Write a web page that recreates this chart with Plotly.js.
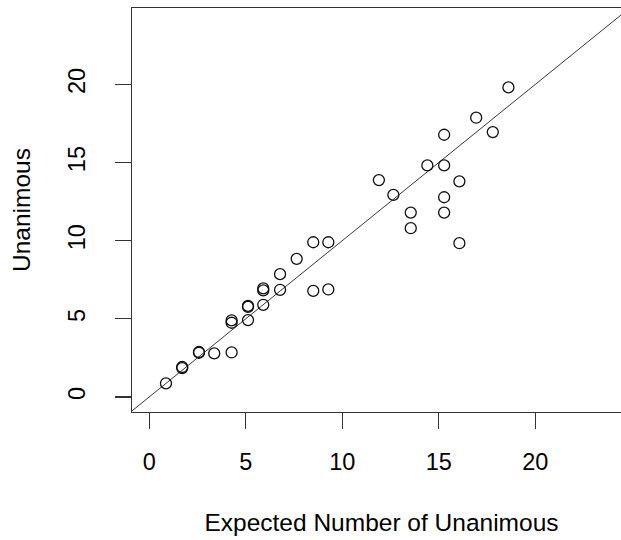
<!DOCTYPE html>
<html>
<head>
<meta charset="utf-8">
<script src="https://cdn.plot.ly/plotly-3.0.1.min.js"></script>
<style>
html, body { margin: 0; padding: 0; overflow: hidden; background: #fff; width: 621px; height: 540px; }
#chart { width: 631px; height: 540px; }
</style>
</head>
<body>
<div id="chart"></div>
<script>
// Expected number of unanimous (x) vs observed unanimous (y)
const expected = [0.87, 1.71, 1.71, 2.58, 2.58, 3.37, 4.27, 4.27, 4.27, 5.12, 5.12, 5.12,
  5.91, 5.91, 5.91, 6.78, 6.78, 7.64, 8.50, 9.28, 8.50, 9.28, 11.90, 12.65, 13.55, 13.55,
  14.41, 15.28, 15.28, 15.28, 15.28, 16.07, 16.07, 16.94, 17.80, 18.61];
const unanimous = [0.87, 1.85, 1.92, 2.83, 2.88, 2.79, 2.85, 4.75, 4.90, 4.92, 5.77, 5.83,
  5.90, 6.82, 6.95, 6.86, 7.86, 8.84, 9.90, 9.90, 6.79, 6.88, 13.88, 12.93, 11.80, 10.80,
  14.82, 14.82, 16.78, 12.78, 11.80, 13.80, 9.84, 17.87, 16.95, 19.81];
const refLine = [-2, 30];           // y = x reference line
const tickVals = [0, 5, 10, 15, 20];
const tickText = ["0", "5", "10", "15", "20"];

const tickFont = { family: "Liberation Sans, Arial, sans-serif", size: 23.5, color: "#000" };
const titleFont = { family: "Liberation Sans, Arial, sans-serif", size: 24.5, color: "#000" };

const traces = [
  {
    x: refLine, y: refLine, mode: "lines", type: "scatter",
    line: { color: "#222", width: 0.9 }, hoverinfo: "skip", showlegend: false
  },
  {
    x: expected, y: unanimous, mode: "markers", type: "scatter",
    marker: { symbol: "circle-open", size: 11, color: "#111", line: { width: 1.3, color: "#111" } },
    showlegend: false, cliponaxis: false
  }
];

const axisCommon = {
  tickmode: "array", tickvals: tickVals, ticktext: tickText,
  ticks: "outside", ticklen: 16, tickwidth: 1.2, tickcolor: "#333",
  showline: true, linecolor: "#333", linewidth: 1.3,
  showgrid: false, zeroline: false, tickfont: tickFont, automargin: false
};

const layout = {
  width: 631, height: 540,
  margin: { l: 132, r: 0, t: 8, b: 128 },
  paper_bgcolor: "#fff", plot_bgcolor: "#fff",
  font: tickFont,
  xaxis: Object.assign({}, axisCommon, {
    range: [-0.89, 24.96], mirror: true,
    title: { text: "Expected Number of Unanimous", font: titleFont, standoff: 40 },
    ticklabelstandoff: 12
  }),
  yaxis: Object.assign({}, axisCommon, {
    range: [-0.96, 24.89], mirror: true, tickangle: -90,
    title: { text: "Unanimous", font: titleFont, standoff: 26 },
    ticklabelstandoff: 20
  })
};

Plotly.newPlot("chart", traces, layout, { displayModeBar: false, staticPlot: true });
</script>
</body>
</html>
